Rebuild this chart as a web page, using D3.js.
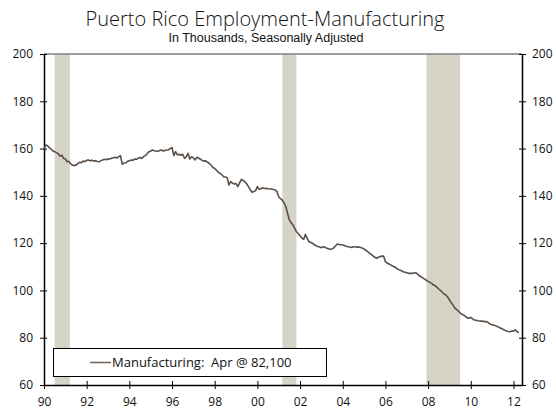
<!DOCTYPE html>
<html>
<head>
<meta charset="utf-8">
<script src="https://cdn.jsdelivr.net/npm/d3@7"></script>
<style>
  html, body { margin: 0; padding: 0; background: #fff; }
  svg { display: block; }
  text { font-family: "Open Sans", "Liberation Sans", Arial, sans-serif; fill: #111; }
</style>
</head>
<body>
<svg id="chart" width="556" height="409"></svg>
<script>
// ---------------- DATA ----------------
const titleText = "Puerto Rico Employment-Manufacturing";
const subtitleText = "In Thousands, Seasonally Adjusted";
const legendText = "Manufacturing:  Apr @ 82,100";

const startYear = 1990; // monthly series, Jan 1990 .. Apr 2012
const manufacturing = [
  // 1990
  159.8, 161.5, 161.2, 160.4, 159.8, 159.0, 158.7, 158.3, 157.8, 156.8, 157.2, 155.9,
  // 1991
  155.6, 154.4, 154.6, 153.5, 153.0, 152.8, 153.0, 153.6, 154.2, 154.0, 154.7, 154.5,
  // 1992
  155.0, 155.2, 154.8, 155.1, 154.7, 154.9, 154.5, 154.4, 154.9, 155.2, 155.5, 155.3,
  // 1993
  155.7, 155.6, 155.9, 156.1, 156.3, 156.0, 156.6, 157.0, 153.3, 153.9, 154.0, 154.6,
  // 1994
  154.8, 155.2, 155.0, 155.6, 155.5, 155.9, 156.2, 155.8, 156.6, 157.0, 157.8, 158.7,
  // 1995
  159.0, 159.4, 159.1, 159.0, 158.8, 159.2, 159.4, 159.0, 159.2, 159.4, 159.5, 160.0,
  // 1996
  160.5, 157.0, 158.7, 157.3, 157.6, 157.2, 157.6, 155.9, 156.5, 158.0, 155.6, 156.5,
  // 1997
  156.1, 155.2, 156.3, 155.9, 155.5, 155.0, 154.7, 154.8, 154.2, 153.7, 153.0, 152.0,
  // 1998
  151.6, 150.8, 150.0, 149.5, 149.0, 148.1, 148.0, 147.7, 144.6, 146.0, 145.4, 145.0,
  // 1999
  145.2, 143.9, 145.5, 147.0, 146.5, 146.0, 145.0, 143.9, 142.6, 141.5, 141.8, 142.2,
  // 2000
  143.9, 142.8, 143.0, 143.4, 143.1, 143.2, 143.0, 142.9, 142.9, 142.7, 142.5, 141.8,
  // 2001
  139.6, 138.8, 138.2, 137.0, 135.4, 132.5, 129.8, 128.6, 127.7, 126.2, 124.8, 124.0,
  // 2002
  123.1, 122.2, 121.6, 123.7, 122.0, 120.6, 120.3, 120.0, 119.3, 118.9, 118.6, 118.4,
  // 2003
  118.1, 118.5, 118.3, 117.8, 117.6, 117.4, 117.5, 118.1, 118.9, 119.6, 119.4, 119.3,
  // 2004
  119.2, 119.0, 118.7, 118.5, 118.4, 118.2, 118.5, 118.5, 118.3, 118.4, 118.2, 117.9,
  // 2005
  117.5, 117.0, 116.4, 115.8, 115.2, 114.6, 114.0, 113.6, 114.0, 114.3, 114.5, 114.5,
  // 2006
  112.1, 111.6, 111.2, 110.8, 110.3, 110.0, 109.5, 109.0, 108.6, 108.3, 107.9, 107.7,
  // 2007
  107.5, 107.2, 107.3, 107.2, 107.4, 107.5, 107.0, 106.2, 105.8, 105.3, 104.8, 104.3,
  // 2008
  103.8, 103.4, 103.0, 102.3, 102.0, 101.3, 100.6, 100.0, 99.2, 98.5, 98.1, 97.2,
  // 2009
  96.0, 94.8, 93.8, 92.6, 91.9, 91.3, 90.5, 89.9, 89.6, 89.0, 88.4, 88.2,
  // 2010
  88.6, 88.0, 87.5, 87.4, 87.2, 87.1, 87.0, 86.9, 86.8, 86.8, 86.3, 85.7,
  // 2011
  85.5, 85.3, 85.1, 84.7, 84.3, 84.0, 83.6, 83.2, 82.8, 82.6, 82.5, 82.8,
  // 2012
  82.8, 83.3, 82.6, 82.1
];

// recessions (decimal years)
const recessionStart = [1990.50, 2001.17, 2007.92];
const recessionEnd   = [1991.21, 2001.83, 2009.50];

const xTickYears  = [1990, 1992, 1994, 1996, 1998, 2000, 2002, 2004, 2006, 2008, 2010, 2012];
const xTickLabels = ["90", "92", "94", "96", "98", "00", "02", "04", "06", "08", "10", "12"];
const yTicks = [60, 80, 100, 120, 140, 160, 180, 200];

// ---------------- LAYOUT ----------------
const svg = d3.select("#chart");
const L = 44, R = 522, T = 54, B = 385;

const x = d3.scaleLinear().domain([1990, 2012.4]).range([L, R]);
const y = d3.scaleLinear().domain([60, 200]).range([B, T]);

const series = manufacturing.map((v, i) => ({ t: startYear + i / 12, v }));

// titles
svg.append("text").attr("x", 265).attr("y", 26).attr("text-anchor", "middle")
  .style("font-size", "20px").style("font-weight", "300").text(titleText);
svg.append("text").attr("x", 266).attr("y", 42).attr("text-anchor", "middle")
  .style("font-family", "'Liberation Sans', Arial, sans-serif")
  .style("font-size", "12.5px").text(subtitleText);

// recession bars
svg.append("g").selectAll("rect").data(recessionStart).join("rect")
  .attr("x", (d) => x(d))
  .attr("width", (d, i) => x(recessionEnd[i]) - x(d))
  .attr("y", T).attr("height", B - T)
  .attr("fill", "#d6d3c7");

// top frame
svg.append("line").attr("x1", L).attr("x2", R).attr("y1", T).attr("y2", T)
  .attr("stroke", "#7f7f7f").attr("stroke-width", 1.5);

// axes
function styleAxis(g) {
  g.select(".domain").attr("stroke", "#000").attr("stroke-width", 1.5);
  g.selectAll(".tick line").attr("stroke", "#000").attr("stroke-width", 1);
  g.selectAll(".tick text").style("font-size", "12px").attr("fill", "#111");
}

const axL = d3.axisLeft(y).tickValues(yTicks).tickSizeInner(4).tickSizeOuter(0).tickPadding(7);
const gL = svg.append("g").attr("transform", `translate(${L},0)`).call(axL);
styleAxis(gL);
gL.selectAll(".tick line").attr("x1", 3).attr("x2", -4);

const axR = d3.axisRight(y).tickValues(yTicks).tickSizeInner(4).tickSizeOuter(0).tickPadding(6);
const gR = svg.append("g").attr("transform", `translate(${R},0)`).call(axR);
styleAxis(gR);
gR.selectAll(".tick line").attr("x1", -3).attr("x2", 4);

const axB = d3.axisBottom(x).tickValues(xTickYears)
  .tickFormat((d, i) => xTickLabels[i]).tickSizeInner(4).tickSizeOuter(0).tickPadding(8);
const gB = svg.append("g").attr("transform", `translate(0,${B})`).call(axB);
styleAxis(gB);
gB.selectAll(".tick line").attr("y1", -4).attr("y2", 4);

// line
const line = d3.line().x((d) => x(d.t)).y((d) => y(d.v));
svg.append("path").datum(series)
  .attr("d", line).attr("fill", "none")
  .attr("stroke", "#5a4f46").attr("stroke-width", 1.6)
  .attr("stroke-linejoin", "round");

// legend
const lg = svg.append("g");
lg.append("rect").attr("x", 53.5).attr("y", 348.5).attr("width", 273).attr("height", 28)
  .attr("fill", "#fff").attr("stroke", "#000").attr("stroke-width", 1);
lg.append("line").attr("x1", 90).attr("x2", 111).attr("y1", 362.5).attr("y2", 362.5)
  .attr("stroke", "#7a6a60").attr("stroke-width", 1.6);
lg.append("text").attr("x", 112).attr("y", 367).style("font-size", "13px")
  .style("white-space", "pre").text(legendText);
</script>
</body>
</html>
